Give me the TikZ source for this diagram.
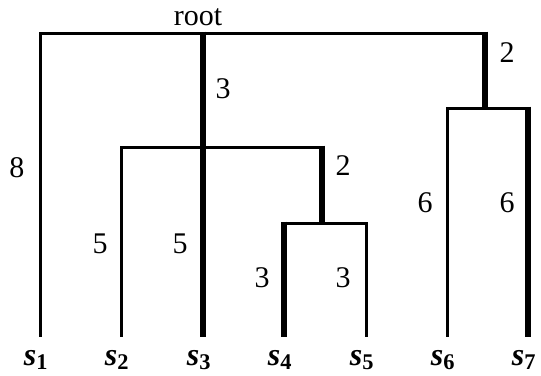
\documentclass[tikz,border=0pt]{standalone}
\usepackage{fontspec}
\setmainfont{Liberation Serif}
\begin{document}
\begin{tikzpicture}[x=0.75pt,y=-0.75pt,
  thinedge/.style={draw=black,line width=2.25pt,line cap=rect},
  thickedge/.style={draw=black,line width=4.3pt,line cap=butt,shorten <=-1.125pt,shorten >=-1.125pt},
  weight/.style={inner sep=0pt,anchor=base,font=\fontsize{22.5}{26}\selectfont},
  leaflab/.style={inner sep=0pt,anchor=base,xshift=-3pt,font=\fontsize{24}{28}\selectfont\bfseries\itshape}]
\useasboundingbox (0,0) rectangle (541,375);
% tree vertices
\coordinate (root) at (203,33);
\coordinate (n) at (203,147);
\coordinate (n45) at (322,223);
\coordinate (n67) at (485,108);
\coordinate (s1) at (40,335);
\coordinate (s2) at (121,335);
\coordinate (s3) at (203,335);
\coordinate (s4) at (284,335);
\coordinate (s5) at (366,335);
\coordinate (s6) at (447,335);
\coordinate (s7) at (528,335);
% horizontal bars
\draw[thinedge] (s1|-root) -- (n67|-root);
\draw[thinedge] (s2|-n) -- (n45|-n);
\draw[thinedge] (s4|-n45) -- (s5|-n45);
\draw[thinedge] (s6|-n67) -- (s7|-n67);
% thin verticals
\draw[thinedge] (s1|-root) -- (s1);
\draw[thinedge] (s2|-n) -- (s2);
\draw[thinedge] (s5|-n45) -- (s5);
\draw[thinedge] (s6|-n67) -- (s6);
% thick verticals
\draw[thickedge] (root) -- (n) -- (s3);
\draw[thickedge] (n45|-n) -- (n45);
\draw[thickedge] (s4|-n45) -- (s4);
\draw[thickedge] (n67|-root) -- (n67);
\draw[thickedge] (s7|-n67) -- (s7);
% labels
\node[weight] (lroot) at (198,25) {root};
\node[weight] (w1) at (223,98) {3};
\node[weight] (w2) at (17,177) {8};
\node[weight] (w3) at (507,62) {2};
\node[weight] (w4) at (343,175) {2};
\node[weight] (w5) at (100,253) {5};
\node[weight] (w6) at (180,253) {5};
\node[weight] (w7) at (262,287) {3};
\node[weight] (w8) at (343,287) {3};
\node[weight] (w9) at (425,212) {6};
\node[weight] (w10) at (507,212) {6};
\node[leaflab] (l1) at (s1 |- 0,365) {s\textsubscript{\upshape 1}};
\node[leaflab] (l2) at (s2 |- 0,365) {s\textsubscript{\upshape 2}};
\node[leaflab] (l3) at (s3 |- 0,365) {s\textsubscript{\upshape 3}};
\node[leaflab] (l4) at (s4 |- 0,365) {s\textsubscript{\upshape 4}};
\node[leaflab] (l5) at (s5 |- 0,365) {s\textsubscript{\upshape 5}};
\node[leaflab] (l6) at (s6 |- 0,365) {s\textsubscript{\upshape 6}};
\node[leaflab] (l7) at (s7 |- 0,365) {s\textsubscript{\upshape 7}};
\end{tikzpicture}
\end{document}
